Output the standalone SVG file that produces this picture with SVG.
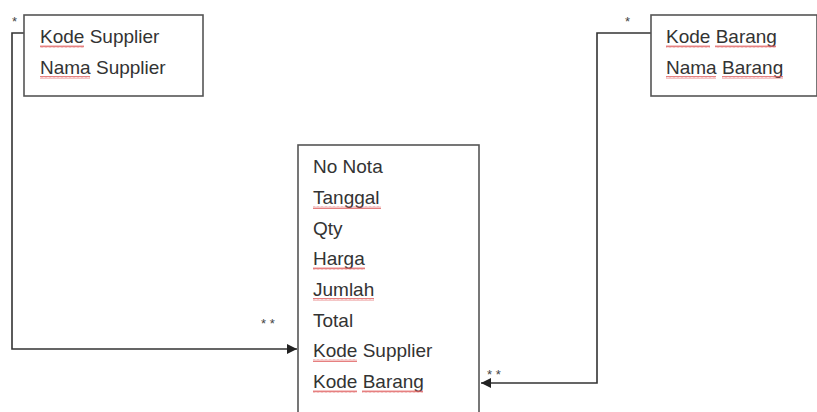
<svg xmlns="http://www.w3.org/2000/svg" width="817" height="412" viewBox="0 0 817 412">
<defs>
<style>
.box{fill:#fff;stroke:#555;stroke-width:1.6}
.t{font-family:"Liberation Sans",Arial,sans-serif;font-size:19px;fill:#333}
.star{font-family:"Liberation Sans",Arial,sans-serif;font-size:13px;fill:#444}
.c{fill:none;stroke:#333;stroke-width:1.6}
.sq{fill:url(#wave)}
</style>
<pattern id="wave" width="4" height="3" patternUnits="userSpaceOnUse">
<path d="M0 2.5 L1 0.5 L2 2.5 L3 0.5 L4 2.5" fill="none" stroke="#e06060" stroke-width="0.8"/>
</pattern>
<marker id="arr" viewBox="0 0 10 10" refX="10" refY="5" markerWidth="10" markerHeight="10" markerUnits="userSpaceOnUse" orient="auto">
<path d="M0 0 L10 5 L0 10 Z" fill="#222"/>
</marker>
</defs>
<rect width="817" height="412" fill="#fff"/>
<g id="connectors">
<polyline class="c" points="24,33 12,33 12,349 297,349" marker-end="url(#arr)"/>
<polyline class="c" points="651,33 597,33 597,383 481,383" marker-end="url(#arr)"/>
<text class="star" x="12" y="26">*</text>
<text class="star" x="625" y="26">*</text>
<text class="star" x="261" y="328">* *</text>
<text class="star" x="487" y="379">* *</text>
</g>
<g id="supplier">
<rect class="box" x="24" y="15" width="179" height="81"/>
<text class="t" x="40" y="43">Kode Supplier</text>
<text class="t" x="40" y="74">Nama Supplier</text>
<rect class="sq" x="40" y="45" width="44" height="3"/>
<rect class="sq" x="40" y="76" width="50" height="3"/>
</g>
<g id="barang">
<rect class="box" x="651" y="15" width="166" height="81"/>
<text class="t" x="666" y="43">Kode Barang</text>
<text class="t" x="666" y="74">Nama Barang</text>
<rect class="sq" x="666" y="45" width="44" height="3"/>
<rect class="sq" x="715" y="45" width="61" height="3"/>
<rect class="sq" x="666" y="76" width="50" height="3"/>
<rect class="sq" x="722" y="76" width="61" height="3"/>
</g>
<g id="transaksi">
<rect class="box" x="298" y="145" width="181" height="270"/>
<text class="t" x="313" y="173">No Nota</text>
<text class="t" x="313" y="204">Tanggal</text>
<text class="t" x="313" y="235">Qty</text>
<text class="t" x="313" y="265">Harga</text>
<text class="t" x="313" y="296">Jumlah</text>
<text class="t" x="313" y="327">Total</text>
<text class="t" x="313" y="357">Kode Supplier</text>
<text class="t" x="313" y="388">Kode Barang</text>
<rect class="sq" x="313" y="206" width="68" height="3"/>
<rect class="sq" x="313" y="267" width="52" height="3"/>
<rect class="sq" x="313" y="298" width="61" height="3"/>
<rect class="sq" x="313" y="359" width="44" height="3"/>
<rect class="sq" x="313" y="390" width="44" height="3"/>
<rect class="sq" x="362" y="390" width="61" height="3"/>
</g>
</svg>
